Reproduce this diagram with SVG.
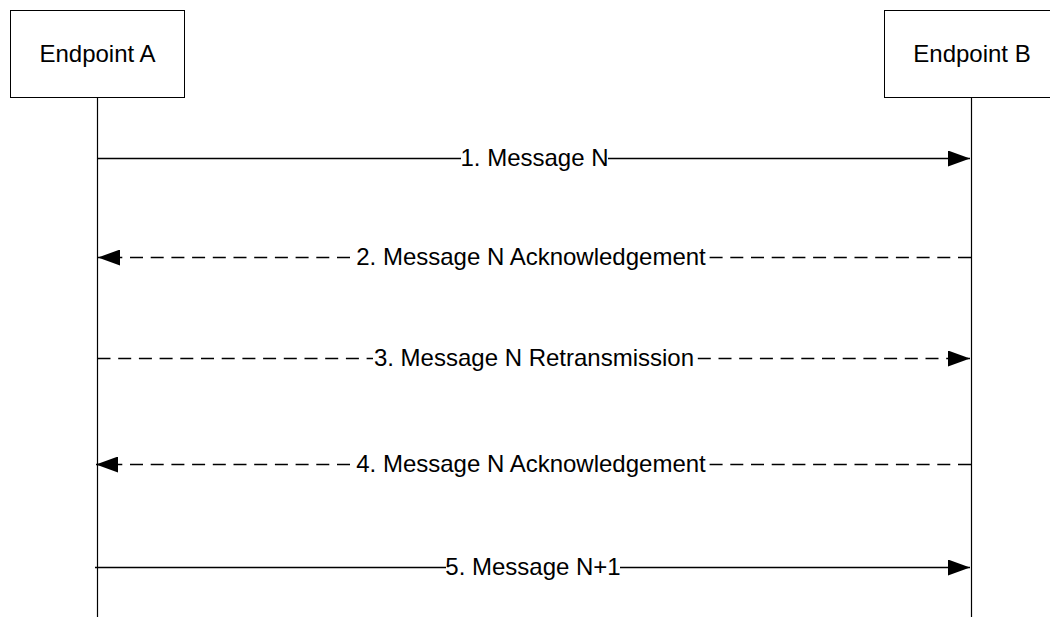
<svg xmlns="http://www.w3.org/2000/svg" width="1050" height="617" viewBox="0 0 1050 617">
<style>
.box{fill:#fff;stroke:#000;stroke-width:1}
.life{stroke:#000;stroke-width:1.2;fill:none}
.msg{stroke:#000;stroke-width:1.3;fill:none}
.dash{stroke-dasharray:13 7.7}
text{font-family:"Liberation Sans",Arial,sans-serif;font-size:24px;fill:#000}
.lbl{text-anchor:middle}
.bg{fill:#fff}
</style>
<defs>
<marker id="ah" viewBox="0 0 22 16" refX="22" refY="8" markerWidth="22" markerHeight="16" markerUnits="userSpaceOnUse" orient="auto">
<path d="M0,0 L22,8 L0,16 Z" fill="#000"/>
</marker>
</defs>
<g id="endpointA">
<rect class="box" x="10.5" y="10.5" width="174" height="87"/>
<text class="lbl" x="97.5" y="62">Endpoint A</text>
<line class="life" x1="97.5" y1="97.5" x2="97.5" y2="617"/>
</g>
<g id="endpointB">
<rect class="box" x="884.5" y="10.5" width="174" height="87"/>
<text class="lbl" x="972" y="62">Endpoint B</text>
<line class="life" x1="971.5" y1="97.5" x2="971.5" y2="617"/>
</g>
<g id="connectors">
<line class="msg" x1="97.5" y1="158.5" x2="970" y2="158.5" marker-end="url(#ah)"/>
<rect class="bg" x="461" y="146" width="147" height="26"/>
<text class="lbl" x="534.5" y="166">1. Message N</text>

<line class="msg dash" x1="971" y1="257.5" x2="98" y2="257.5" marker-end="url(#ah)"/>
<rect class="bg" x="357" y="245" width="348" height="26"/>
<text class="lbl" x="531" y="265">2. Message N Acknowledgement</text>

<line class="msg dash" x1="97.5" y1="358.5" x2="970" y2="358.5" marker-end="url(#ah)"/>
<rect class="bg" x="373" y="346" width="322" height="26"/>
<text class="lbl" x="534" y="366">3. Message N Retransmission</text>

<line class="msg dash" x1="971" y1="464.5" x2="96" y2="464.5" marker-end="url(#ah)"/>
<rect class="bg" x="355" y="452" width="352" height="26"/>
<text class="lbl" x="531" y="472">4. Message N Acknowledgement</text>

<line class="msg" x1="95" y1="567.5" x2="970" y2="567.5" marker-end="url(#ah)"/>
<rect class="bg" x="446" y="555" width="174" height="26"/>
<text class="lbl" x="533" y="575">5. Message N+1</text>
</g>
</svg>
